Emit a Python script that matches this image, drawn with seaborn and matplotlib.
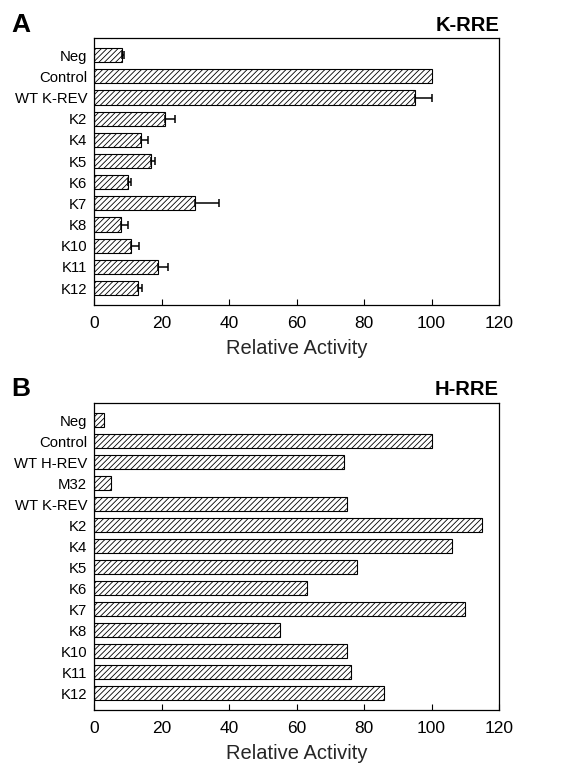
import matplotlib
matplotlib.use("Agg")
import matplotlib.pyplot as plt
import seaborn as sns
import numpy as np
import pandas as pd

sns.set_theme(style="white")
plt.rcParams['font.family'] = ['Liberation Sans', 'DejaVu Sans']
plt.rcParams['hatch.linewidth'] = 0.6

# Panel A data (K-RRE)
cats_a = ["Neg", "Control", "WT K-REV", "K2", "K4", "K5", "K6", "K7", "K8", "K10", "K11", "K12"]
vals_a = [8.2, 100, 95, 21, 14, 17, 10, 30, 8, 11, 19, 13]
errs_a = [0.8, 0, 5, 3, 2, 1, 1, 7, 2, 2.3, 3, 1.3]

# Panel B data (H-RRE)
cats_b = ["Neg", "Control", "WT H-REV", "M32", "WT K-REV", "K2", "K4", "K5", "K6", "K7", "K8", "K10", "K11", "K12"]
vals_b = [3, 100, 74, 5, 75, 115, 106, 78, 63, 110, 55, 75, 76, 86]

xticks = [0, 20, 40, 60, 80, 100, 120]

fig = plt.figure(figsize=(5.65, 7.63), dpi=100)
ax_a = fig.add_axes([0.1664, 0.6003, 0.7168, 0.3495])
ax_b = fig.add_axes([0.1664, 0.0695, 0.7168, 0.4019])


def draw(ax, cats, vals, errs, letter, title, title_gap_px):
    df = pd.DataFrame({"cat": cats, "val": vals})
    sns.barplot(data=df, x="val", y="cat", orient="h", color="white",
                edgecolor="black", linewidth=0.8, width=0.67, ax=ax, errorbar=None)
    for p in ax.patches:
        p.set_hatch("//////")
        p.set_facecolor("white")
    if errs is not None:
        pos = np.arange(len(cats))
        e = np.array(errs)
        mask = e > 0
        ax.errorbar(np.array(vals)[mask], pos[mask],
                    xerr=[np.zeros(mask.sum()), e[mask]],
                    fmt="none", ecolor="black", elinewidth=1.1, capsize=2.6, capthick=1.1)
    n = len(cats)
    ax.set_ylim(n - 1 + 0.8, -0.8)
    ax.set_xlim(0, 120)
    ax.set_xticks(xticks)
    ax.set_xticklabels([str(t) for t in xticks])
    ax.set_ylabel("")
    ax.set_xlabel("Relative Activity", fontsize=14.5, labelpad=6)
    ax.tick_params(axis="x", direction="in", length=4, width=0.8, labelsize=12.5,
                   pad=8, bottom=True, colors="black")
    ax.tick_params(axis="y", length=0, labelsize=10.7, pad=5, colors="black")
    for s in ax.spines.values():
        s.set_visible(True)
        s.set_color("black")
        s.set_linewidth(0.9)
    bbox = ax.get_position()
    h_px = bbox.height * fig.get_figheight() * fig.dpi
    yfrac = 1 + title_gap_px / h_px
    ax.text(-0.205, yfrac, letter, transform=ax.transAxes, fontsize=19,
            fontweight="bold", ha="left", va="center", color="black")
    ax.text(1.0, yfrac, title, transform=ax.transAxes, fontsize=14.5,
            fontweight="bold", ha="right", va="center", color="black")


draw(ax_a, cats_a, vals_a, errs_a, "A", "K-RRE", 13)
draw(ax_b, cats_b, vals_b, None, "B", "H-RRE", 14)

fig.savefig("out.png", dpi=100, facecolor="white")
